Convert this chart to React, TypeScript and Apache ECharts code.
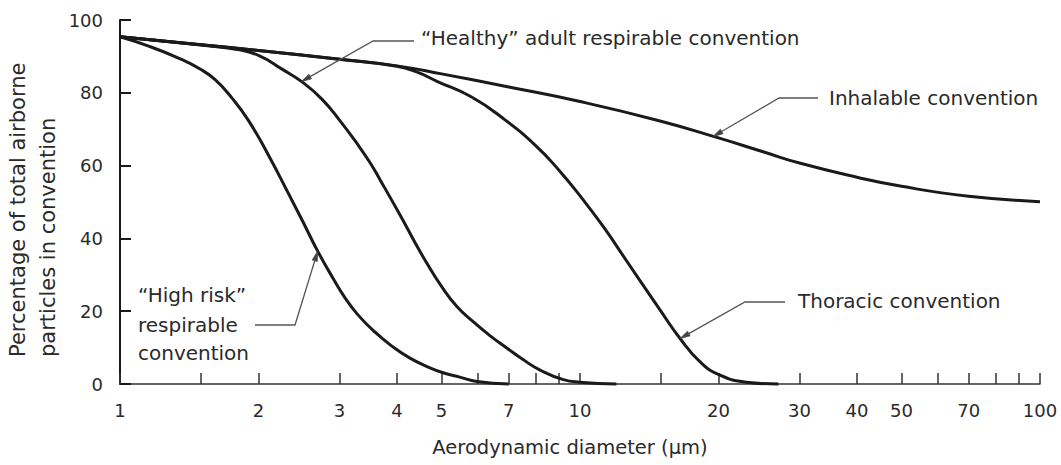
import React, { useEffect, useRef } from "react";
import * as echarts from "echarts";

// Axis tick positions (aerodynamic diameter, µm) and labelled values
const xTickValues = [1, 1.5, 2, 3, 4, 5, 6, 7, 8, 9, 10, 15, 20, 30, 40, 50, 60, 70, 80, 90, 100];
const xLabelValues = [1, 2, 3, 4, 5, 7, 10, 20, 30, 40, 50, 70, 100];

// Inhalable convention
const inhalableDiam = [1, 1.5, 2, 3, 4, 5, 7, 10, 15, 20, 25, 30, 40, 50, 70, 100];
const inhalablePct = [95.4, 93.2, 91.6, 89.2, 87.4, 85.2, 81.6, 77.6, 72.2, 67.6, 63.8, 60.7, 56.8, 54.3, 51.6, 50.1];

// Thoracic convention
const thoracicDiam = [1, 1.5, 2, 3, 4, 4.4, 4.9, 5.8, 6.8, 8.04, 9.02, 10.1, 11.3, 12.6, 14.9, 16.5, 18.2, 20.1, 23, 27];
const thoracicPct = [95.4, 93.2, 91.6, 89.2, 87.3, 85.8, 83.1, 78.9, 73, 65.3, 58.6, 51, 42.8, 34, 20.5, 12.5, 6.2, 2.5, 0.5, 0];

// "Healthy" adult respirable convention
const healthyDiam = [1, 1.5, 1.8, 2, 2.25, 2.5, 2.75, 3, 3.3, 3.5, 3.68, 4.06, 4.33, 4.64, 5, 5.4, 5.85, 6.37, 6.93, 7.52, 8.17, 9.2, 10, 12];
const healthyPct = [95.4, 93.1, 91.9, 90.3, 86.5, 82.8, 78.2, 72.5, 65.5, 60.7, 56, 46.5, 40, 33.3, 26.8, 21.3, 17.2, 13.3, 9.9, 6.7, 3.9, 1.2, 0.5, 0];

// "High risk" respirable convention
const highRiskDiam = [1, 1.15, 1.36, 1.49, 1.61, 1.75, 1.9, 2.1, 2.32, 2.5, 2.69, 2.9, 3.08, 3.28, 3.58, 3.92, 4.27, 4.65, 5.04, 5.48, 5.97, 7];
const highRiskPct = [95.4, 92.9, 89.2, 86.6, 83.6, 78.6, 72.5, 63, 52.5, 44.5, 36.5, 29.2, 23.8, 19.2, 14.3, 10.2, 7.1, 4.8, 3.1, 1.9, 0.7, 0];

const FONT = "'DejaVu Sans', 'Noto Sans', sans-serif";
const INK = "#1a1a1a";
const TEXT = "#2a2a2a";
const LEADER = "#555";

type Note = {
  lines: string[];
  textX: number;
  textY: number[];
  leader: number[][];
  tip: number[]; // [diameter, percentage] on the curve
};

// Callout labels with their leader lines
const notes: Note[] = [
  {
    lines: ["\u201CHealthy\u201D adult respirable convention"],
    textX: 421,
    textY: [38],
    leader: [[414, 41], [373, 41]],
    tip: [2.48, 83.1],
  },
  {
    lines: ["Inhalable convention"],
    textX: 829,
    textY: [98],
    leader: [[818, 98], [779, 98]],
    tip: [19.46, 68],
  },
  {
    lines: ["Thoracic convention"],
    textX: 798,
    textY: [301],
    leader: [[785, 302], [745, 302]],
    tip: [16.5, 12.5],
  },
  {
    lines: ["\u201CHigh risk\u201D", "respirable", "convention"],
    textX: 138,
    textY: [295, 325, 353],
    leader: [[255, 325], [295, 325]],
    tip: [2.69, 36.5],
  },
];

function pairs(d: number[], v: number[]) {
  return d.map((x, i) => [x, v[i]]);
}

function curve(name: string, d: number[], v: number[]) {
  return {
    type: "line",
    name,
    data: pairs(d, v),
    smooth: 0.5,
    symbol: "none",
    clip: false,
    lineStyle: { color: INK, width: 3 },
    z: 3,
  };
}

export default function App() {
  const ref = useRef<HTMLDivElement>(null);

  useEffect(() => {
    const chart = echarts.init(ref.current!, null, { renderer: "svg" });
    chart.setOption({
      animation: false,
      backgroundColor: "#ffffff",
      grid: { left: 120, right: 21, top: 20, bottom: 81, outerBoundsMode: "none" },
      xAxis: {
        type: "log",
        logBase: 10,
        min: 1,
        max: 100,
        axisLine: { show: true, lineStyle: { color: "#333", width: 1.5 } },
        axisTick: {
          show: true,
          inside: true,
          length: 11,
          customValues: xTickValues,
          lineStyle: { color: "#333", width: 1.5 },
        },
        axisLabel: {
          show: true,
          customValues: xLabelValues,
          margin: 17,
          fontSize: 18,
          color: TEXT,
          fontFamily: FONT,
        },
        splitLine: { show: false },
        minorTick: { show: false },
      },
      yAxis: {
        type: "value",
        min: 0,
        max: 100,
        interval: 20,
        axisLine: { show: true, lineStyle: { color: INK, width: 2 } },
        axisTick: { show: true, inside: true, length: 11, lineStyle: { color: INK, width: 2 } },
        axisLabel: { margin: 17, fontSize: 18, color: TEXT, fontFamily: FONT },
        splitLine: { show: false },
      },
      series: [
        curve("Inhalable convention", inhalableDiam, inhalablePct),
        curve("Thoracic convention", thoracicDiam, thoracicPct),
        curve("\u201CHealthy\u201D adult respirable convention", healthyDiam, healthyPct),
        curve("\u201CHigh risk\u201D respirable convention", highRiskDiam, highRiskPct),
      ],
    });

    // Callouts: text, leader polyline and arrowhead ending on the curve
    const elements: any[] = [];
    notes.forEach((n) => {
      n.lines.forEach((line, i) => {
        elements.push({
          type: "text",
          x: n.textX,
          y: n.textY[i],
          style: {
            text: line,
            fontSize: 20,
            fontFamily: FONT,
            fill: TEXT,
            align: "left",
            verticalAlign: "middle",
            textAlign: "left",
            textVerticalAlign: "middle",
          },
          z: 10,
        });
      });
      const tip = chart.convertToPixel({ gridIndex: 0 }, n.tip) as number[];
      const last = n.leader[n.leader.length - 1];
      const dx = tip[0] - last[0];
      const dy = tip[1] - last[1];
      const len = Math.hypot(dx, dy);
      const ux = dx / len;
      const uy = dy / len;
      const head = 10;
      const half = 2.6;
      const base = [tip[0] - ux * head, tip[1] - uy * head];
      elements.push({
        type: "polyline",
        shape: { points: [...n.leader, base] },
        style: { stroke: LEADER, lineWidth: 1.3, fill: null },
        z: 10,
      });
      elements.push({
        type: "polygon",
        shape: {
          points: [
            tip,
            [base[0] - uy * half, base[1] + ux * half],
            [base[0] + uy * half, base[1] - ux * half],
          ],
        },
        style: { fill: "#444", stroke: "#444", lineWidth: 0.8 },
        z: 10,
      });
    });

    // Axis titles
    elements.push({
      type: "text",
      x: 570,
      y: 447,
      style: {
        text: "Aerodynamic diameter (\u03BCm)",
        fontSize: 19.5,
        fontFamily: FONT,
        fill: TEXT,
        align: "center",
        verticalAlign: "middle",
        textAlign: "center",
        textVerticalAlign: "middle",
      },
    });
    [
      { text: "Percentage of total airborne", x: 18 },
      { text: "particles in convention", x: 48 },
    ].forEach((t) => {
      elements.push({
        type: "text",
        x: t.x,
        y: 357,
        rotation: Math.PI / 2,
        style: {
          text: t.text,
          fontSize: 21,
          fontFamily: FONT,
          fill: TEXT,
          align: "left",
          verticalAlign: "middle",
          textAlign: "left",
          textVerticalAlign: "middle",
        },
      });
    });

    chart.setOption({ graphic: { elements } });

    return () => {
      chart.dispose();
    };
  }, []);

  return (
    <div
      ref={ref}
      style={{ position: "fixed", left: 0, top: 0, width: 1061, height: 465, background: "#fff" }}
    />
  );
}
